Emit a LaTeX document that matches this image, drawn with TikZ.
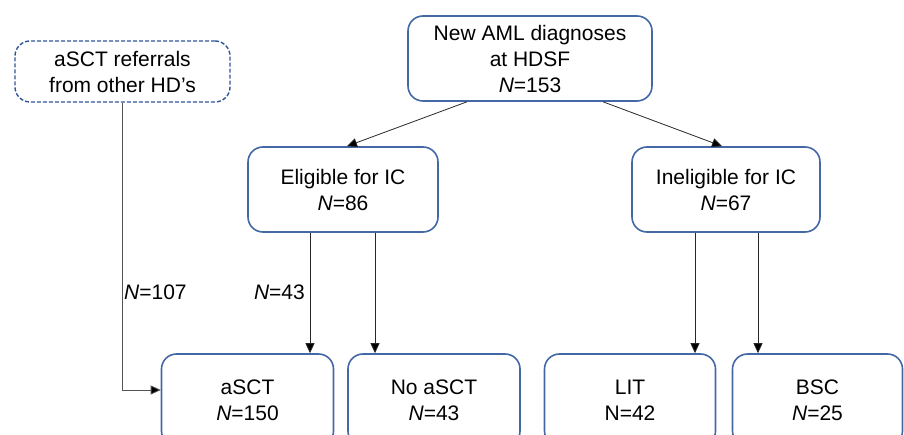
\documentclass[tikz,border=0pt]{standalone}
\usepackage{fontspec}
\setmainfont{Liberation Sans}
\usetikzlibrary{arrows.meta}
\definecolor{boxblue}{RGB}{68,104,166}
\definecolor{refblue}{RGB}{47,85,151}
\definecolor{linegray}{RGB}{40,40,40}
\tikzset{
  flowbox/.style={draw=boxblue, line width=1.6pt, rounded corners=15pt,
    align=center, inner sep=0pt, font=\fontsize{21}{26}\selectfont},
  refbox/.style={flowbox, draw=refblue, line width=1.4pt, dash pattern=on 4pt off 2pt},
  arr/.style={draw=linegray, line width=0.8pt, -{Triangle[length=10pt,width=9pt,fill=black]}},
  lbl/.style={font=\fontsize{21}{26}\selectfont, inner sep=0pt}
}
\newcommand{\nval}[1]{\textit{N}=#1}
\begin{document}
\begin{tikzpicture}[x=1pt,y=-1pt]
  \useasboundingbox (0,0) rectangle (904,435);
  \clip (0,0) rectangle (904,435);

  % source boxes
  \node[refbox, minimum width=215pt, minimum height=61pt] (ref) at (122.5,71.5)
    {aSCT referrals\\from other HD’s};
  \node[flowbox, minimum width=244pt, minimum height=85pt] (top) at (530,58.5)
    {New AML diagnoses\\at HDSF\\\nval{153}};

  % second level
  \node[flowbox, minimum width=190pt, minimum height=85pt] (elig) at (343,189.5)
    {Eligible for IC\\\nval{86}};
  \node[flowbox, minimum width=188pt, minimum height=85pt] (inel) at (726,189.5)
    {Ineligible for IC\\\nval{67}};

  % outcome boxes (run past the lower edge)
  \node[flowbox, minimum width=172pt, minimum height=92pt] (asct) at (247.5,400)
    {aSCT\\\nval{150}};
  \node[flowbox, minimum width=172pt, minimum height=92pt] (noasct) at (434,400)
    {No aSCT\\\nval{43}};
  \node[flowbox, minimum width=171pt, minimum height=92pt] (lit) at (630,400)
    {LIT\\N=42};
  \node[flowbox, minimum width=170pt, minimum height=92pt] (bsc) at (817.5,400)
    {BSC\\\nval{25}};

  % connectors
  \draw[arr] ([xshift=-63pt]top.south) -- ([xshift=4pt]elig.north);
  \draw[arr] ([xshift=73pt]top.south) -- ([xshift=-4pt]inel.north);

  \draw[arr] ([xshift=-33pt]elig.south) -- ([xshift=-33pt]elig.south |- asct.north);
  \draw[arr] ([xshift=32pt]elig.south) -- ([xshift=32pt]elig.south |- noasct.north);
  \draw[arr] ([xshift=-31pt]inel.south) -- ([xshift=-31pt]inel.south |- lit.north);
  \draw[arr] ([xshift=32pt]inel.south) -- ([xshift=32pt]inel.south |- bsc.north);

  \coordinate (refin) at ([yshift=10pt]asct.west);
  \draw[arr, draw=linegray!80] (ref.south) |- (refin);

  % flow labels
  \node[lbl, anchor=west] (l107) at (124,292) {\nval{107}};
  \node[lbl, anchor=east] (l43) at (305,292) {\nval{43}};
\end{tikzpicture}
\end{document}
